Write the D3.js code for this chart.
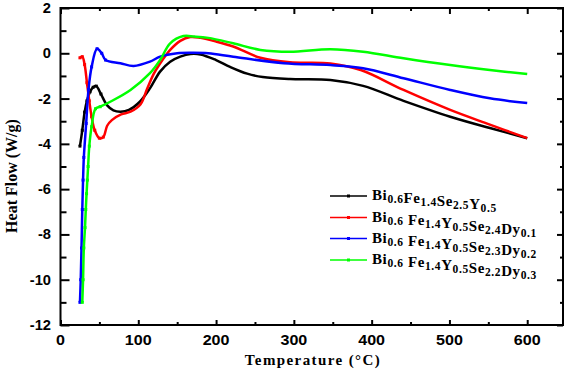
<!DOCTYPE html>
<html><head><meta charset="utf-8">
<script src="https://cdn.jsdelivr.net/npm/d3@7"></script>
<style>body{margin:0;background:#fff}svg{display:block}</style>
</head><body>
<svg id="c" width="567" height="370"></svg>
<script>
const xTicks = [0,100,200,300,400,500,600];
const yTicks = [2,0,-2,-4,-6,-8,-10,-12];
const seriesNames = [
  ["Bi",["0.6"],"Fe",["1.4"],"Se",["2.5"],"Y",["0.5"]],
  ["Bi",["0.6"]," Fe",["1.4"],"Y",["0.5"],"Se",["2.4"],"Dy",["0.1"]],
  ["Bi",["0.6"]," Fe",["1.4"],"Y",["0.5"],"Se",["2.3"],"Dy",["0.2"]],
  ["Bi",["0.6"]," Fe",["1.4"],"Y",["0.5"],"Se",["2.2"],"Dy",["0.3"]]
];
const seriesColors = ["#000000","#ff0000","#0000ff","#00ff00"];
const blackData = [[25,-4.1],[28,-3.4],[31,-2.6],[34,-2.1],[38,-1.7],[42,-1.5],[46,-1.45],[52,-1.8],[60,-2.3],[68,-2.52],[77,-2.58],[88,-2.5],[102,-2.14],[115,-1.55],[128,-0.81],[141,-0.37],[154,-0.15],[167,-0.03],[180,-0.05],[200,-0.3],[218,-0.6],[240,-0.9],[260,-1.05],[295,-1.14],[347,-1.18],[389,-1.44],[441,-2.1],[501,-2.8],[552,-3.3],[600,-3.75]];
const redData = [[25,-0.2],[28,-0.15],[31,-0.5],[34,-1.3],[37,-2.1],[40,-2.8],[44,-3.4],[50,-3.75],[55,-3.7],[60,-3.2],[66,-2.95],[78,-2.7],[90,-2.58],[103,-2.25],[111,-1.6],[120,-0.9],[128,-0.45],[141,0.15],[154,0.55],[167,0.72],[180,0.68],[200,0.52],[222,0.3],[257,-0.2],[295,-0.4],[347,-0.45],[386,-0.74],[441,-1.62],[501,-2.5],[552,-3.15],[600,-3.75]];
const blueData = [[25,-11],[26,-10],[27,-8.6],[28,-6.9],[29,-5.6],[30,-4.6],[33,-3.1],[36,-1.6],[40,-0.6],[47,0.2],[53,0],[58,-0.3],[77,-0.44],[94,-0.56],[115,-0.37],[128,-0.15],[150,0],[170,0.02],[190,0],[222,-0.15],[287,-0.44],[347,-0.52],[389,-0.66],[441,-1.1],[501,-1.62],[552,-1.99],[600,-2.2]];
const greenData = [[28,-11],[29,-10],[30,-8.6],[31.5,-7.7],[32.5,-6.9],[33.5,-6.2],[34.5,-5.6],[35.5,-5.0],[37,-4.1],[40,-3.24],[45,-2.45],[51,-2.36],[64,-2.14],[90,-1.62],[115,-0.88],[128,-0.3],[141,0.44],[158,0.76],[172,0.74],[190,0.68],[222,0.44],[257,0.15],[295,0.07],[347,0.18],[389,0.07],[441,-0.22],[501,-0.52],[552,-0.74],[600,-0.92]];
const allData = [blackData, redData, blueData, greenData];

const svg = d3.select("#c");
const L = 60.5, R = 563, T = 8, B = 325;
const x = d3.scaleLinear().domain([0,646]).range([L,R]);
const y = d3.scaleLinear().domain([-12,2]).range([B,T]);

const xMinor = d3.range(50,646,100);
const yMinor = d3.range(-11,2,2);
function addAxis(axisFn, scale, vals, len, tr){
  const a = axisFn(scale).tickValues(vals).tickSize(len).tickFormat("");
  const ag = svg.append("g").attr("transform",tr).call(a);
  ag.select(".domain").remove();
  ag.selectAll(".tick line").attr("stroke","#000").attr("stroke-width",2);
  return ag;
}
addAxis(d3.axisTop, x, xTicks, 5, `translate(0,${B})`);
addAxis(d3.axisTop, x, xMinor, 3, `translate(0,${B})`);
addAxis(d3.axisBottom, x, xTicks, 6, `translate(0,${T})`);
addAxis(d3.axisBottom, x, xMinor, 3, `translate(0,${T})`);
addAxis(d3.axisRight, y, yTicks, 9, `translate(${L},0)`);
addAxis(d3.axisRight, y, yMinor, 6, `translate(${L},0)`);
addAxis(d3.axisLeft, y, yTicks, 6, `translate(${R},0)`);
addAxis(d3.axisLeft, y, yMinor, 3, `translate(${R},0)`);

svg.append("rect").attr("x",L).attr("y",T).attr("width",R-L).attr("height",B-T)
  .attr("fill","none").attr("stroke","#000").attr("stroke-width",2);

const sans = "'Liberation Sans',Arial,sans-serif";
const serif = "'Liberation Serif','Times New Roman',serif";
svg.append("g").selectAll("text").data(xTicks).join("text")
  .attr("transform",d=>`translate(${x(d)},345) scale(1.15,1)`).attr("text-anchor","middle")
  .attr("font-family",sans).attr("font-weight","bold").attr("font-size","14px")
  .text(d=>d);
svg.append("g").selectAll("text").data(yTicks).join("text")
  .attr("transform",d=>`translate(51,${y(d)+5}) scale(1.05,1)`).attr("text-anchor","end")
  .attr("font-family",sans).attr("font-weight","bold").attr("font-size","14px")
  .text(d=>d);

svg.append("text").attr("x",313).attr("y",365).attr("text-anchor","middle")
  .attr("font-family",serif).attr("font-weight","bold")
  .attr("font-size","15px").attr("letter-spacing","1.4px").text("Temperature (°C)");
svg.append("text").attr("transform","translate(17,176) rotate(-90)").attr("text-anchor","middle")
  .attr("font-family",serif).attr("font-weight","bold")
  .attr("font-size","16px").text("Heat Flow (W/g)");

const line = d3.line().x(d=>x(d[0])).y(d=>y(d[1])).curve(d3.curveCatmullRom.alpha(0.5));
const plot = svg.append("g");
allData.forEach((data,i)=>{
  plot.append("path").datum(data).attr("d",line).attr("fill","none")
    .attr("stroke",seriesColors[i]).attr("stroke-width",2.5).attr("stroke-linejoin","round");
  plot.append("g").selectAll("rect").data(data.filter(d=>d[0]<60)).join("rect")
    .attr("x",d=>x(d[0])-1.5).attr("y",d=>y(d[1])-1.5).attr("width",3).attr("height",3)
    .attr("fill",seriesColors[i]);
});

const lg = svg.append("g");
const rows = [196,217.5,238.5,260];
seriesNames.forEach((parts,i)=>{
  const yy = rows[i];
  lg.append("line").attr("x1",330).attr("x2",367).attr("y1",yy).attr("y2",yy)
    .attr("stroke",seriesColors[i]).attr("stroke-width",1.5);
  lg.append("rect").attr("x",347).attr("y",yy-1.5).attr("width",3).attr("height",3).attr("fill",seriesColors[i]);
  const t = lg.append("text").attr("x",372).attr("y",yy+4)
    .attr("font-family",serif).attr("font-weight","bold")
    .attr("font-size","15px").attr("letter-spacing","0.6px").style("white-space","pre");
  parts.forEach(p=>{
    if (Array.isArray(p)) {
      t.append("tspan").attr("font-size","11.5px").attr("dy",3).text(p[0]);
      t.append("tspan").attr("dy",-3).text("");
    } else {
      t.append("tspan").text(p);
    }
  });
});
</script>
</body></html>
